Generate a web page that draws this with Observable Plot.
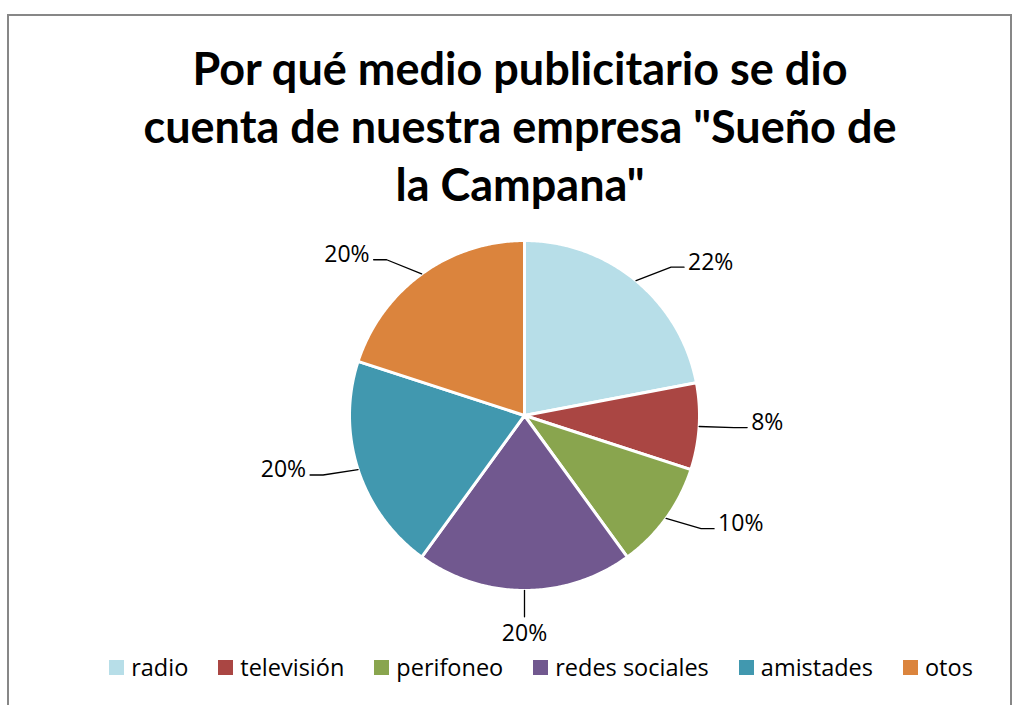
<!DOCTYPE html>
<html>
<head>
<meta charset="utf-8">
<script src="https://cdn.jsdelivr.net/npm/d3@7"></script>
<script src="https://cdn.jsdelivr.net/npm/@observablehq/plot@0.6"></script>
<style>
  html, body { margin: 0; padding: 0; background: #fff; width: 1013px; height: 705px; overflow: hidden; }
  #frame { position: absolute; left: 7px; top: 14px; width: 1001px; height: 720px;
    border-left: 2px solid #878787; border-top: 2px solid #878787; border-right: 2px solid #878787; }
  #title { position: absolute; left: 0; top: 39px; width: 1040px; text-align: center;
    font-family: Lato, "Open Sans", sans-serif; font-weight: bold; font-size: 45px; line-height: 58px; color: #000; }
  #chart { position: absolute; left: 0; top: 215px; }
  #legend { position: absolute; left: 0; top: 651px; width: 1082px; display: flex; justify-content: center;
    font-family: "Open Sans", Lato, sans-serif; font-size: 23.5px; color: #000; }
  .item { display: flex; align-items: center; margin: 0 15px; }
  .sw { width: 15px; height: 15px; margin-right: 7px; }
</style>
</head>
<body>
<div id="frame"></div>
<div id="title">Por qué medio publicitario se dio<br>cuenta de nuestra empresa "Sueño de<br>la Campana"</div>
<div id="chart"></div>
<div id="legend"></div>
<script>
const categories = ["radio", "televisión", "perifoneo", "redes sociales", "amistades", "otos"];
const values = [22, 8, 10, 20, 20, 20];
const colors = ["#B7DEE8", "#AA4643", "#89A54E", "#71588F", "#4198AF", "#DB843D"];

const W = 1013, H = 440, cx = 524, cy = 200, R = 175;

const data = categories.map((c, i) => ({name: c, value: values[i]}));
const arcs = d3.pie().sort(null).value(d => d.value)(data);

// slice polygons
const poly = [];
for (const a of arcs) {
  poly.push({name: a.data.name, x: 0, y: 0});
  const n = Math.max(8, Math.ceil((a.endAngle - a.startAngle) / 0.01));
  for (let k = 0; k <= n; k++) {
    const t = a.startAngle + (a.endAngle - a.startAngle) * k / n;
    poly.push({name: a.data.name, x: R * Math.sin(t), y: -R * Math.cos(t)});
  }
  poly.push({name: a.data.name, x: 0, y: 0});
}

// labels and leaders
const leaders = [], labels = [];
for (const a of arcs) {
  const m = (a.startAngle + a.endAngle) / 2;
  const s = Math.sin(m), c = -Math.cos(m);
  const side = Math.abs(s) < 0.15 ? 0 : Math.sign(s);
  const p0 = {x: R * s, y: R * c};
  if (side === 0) {
    leaders.push({name: a.data.name, ...p0}, {name: a.data.name, x: p0.x, y: R * 1.15});
    labels.push({text: a.data.value + "%", x: p0.x, y: R * 1.15 + 17, anchor: "middle"});
  } else {
    const p1 = {x: p0.x + side * 35, y: p0.y * 1.1};
    const p2 = {x: p1.x + side * 13, y: p1.y};
    leaders.push({name: a.data.name, ...p0}, {name: a.data.name, ...p1}, {name: a.data.name, ...p2});
    labels.push({text: a.data.value + "%", x: p2.x + side * 4, y: p2.y - 5, anchor: side > 0 ? "start" : "end"});
  }
}

const textOpts = {x: "x", y: "y", text: "text", fontSize: 23,
  fontFamily: "'Open Sans', Lato, sans-serif", fill: "black", lineAnchor: "middle"};

const chart = Plot.plot({
  width: W, height: H,
  margin: 0,
  x: {domain: [-cx, W - cx], range: [0, W], axis: null},
  y: {domain: [-cy, H - cy], range: [0, H], axis: null},
  color: {domain: categories, range: colors},
  marks: [
    Plot.line(poly, {x: "x", y: "y", z: "name", fill: "name", stroke: "white", strokeWidth: 3, strokeLinejoin: "round"}),
    Plot.line(leaders, {x: "x", y: "y", z: "name", stroke: "black", strokeWidth: 1.3}),
    Plot.text(labels.filter(d => d.anchor === "start"), {...textOpts, textAnchor: "start"}),
    Plot.text(labels.filter(d => d.anchor === "end"), {...textOpts, textAnchor: "end"}),
    Plot.text(labels.filter(d => d.anchor === "middle"), {...textOpts, textAnchor: "middle"})
  ]
});
document.getElementById("chart").appendChild(chart);

const legend = document.getElementById("legend");
categories.forEach((c, i) => {
  const it = document.createElement("div");
  it.className = "item";
  it.innerHTML = `<span class="sw" style="background:${colors[i]}"></span><span>${c}</span>`;
  legend.appendChild(it);
});
</script>
</body>
</html>
